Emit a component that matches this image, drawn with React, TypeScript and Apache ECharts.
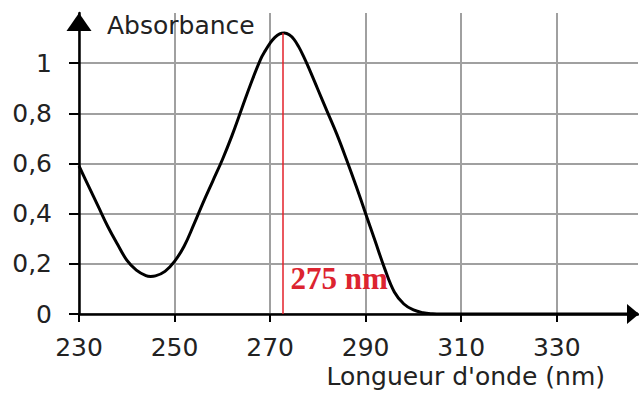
import React, { useEffect, useRef } from "react";
import * as echarts from "echarts";

const wavelengths = [230, 232, 234, 236, 238, 240, 242, 244, 245, 246, 248, 250, 252, 254, 256, 258, 260, 262, 264, 266, 268, 269, 270, 271, 272, 273, 274, 275, 276, 277, 278, 280, 282, 284, 286, 288, 290, 292, 294, 296, 298, 300, 302, 304, 306, 320, 347];
const absorbance = [0.59, 0.51, 0.43, 0.35, 0.28, 0.215, 0.175, 0.153, 0.15, 0.152, 0.17, 0.21, 0.27, 0.355, 0.445, 0.53, 0.615, 0.71, 0.815, 0.92, 1.015, 1.05, 1.08, 1.103, 1.117, 1.12, 1.113, 1.095, 1.065, 1.027, 0.985, 0.895, 0.805, 0.715, 0.615, 0.51, 0.4, 0.29, 0.18, 0.088, 0.04, 0.016, 0.005, 0.001, 0, 0, 0];
const xTicks = [230, 250, 270, 290, 310, 330];
const yTicks = [0, 0.2, 0.4, 0.6, 0.8, 1];
const peakWavelength = 272.7;
const peakAbsorbance = 1.12;
const peakLabel = "275 nm";

export default function App() {
  const ref = useRef<HTMLDivElement>(null);
  useEffect(() => {
    const chart = echarts.init(ref.current!, null, { renderer: "svg" });
    const grid = "#a0a0a0";
    const fontFamily = "DejaVu Sans";
    chart.setOption({
      animation: false,
      backgroundColor: "#ffffff",
      grid: { left: 79, top: 13, right: 1, bottom: 80 },
      xAxis: {
        type: "value",
        min: 230,
        max: 347,
        interval: 20,
        name: "Longueur d'onde (nm)",
        nameLocation: "end",
        nameGap: -33,
        nameTextStyle: {
          align: "right",
          verticalAlign: "top",
          padding: [50, 0, 0, 0],
          fontSize: 25,
          fontFamily,
          color: "#222",
        },
        axisLine: {
          show: true,
          lineStyle: { color: "#000", width: 2.5 },
          symbol: ["none", "triangle"],
          symbolSize: [20, 12],
          symbolOffset: [0, -5],
        },
        axisTick: {
          show: true,
          inside: false,
          length: 8,
          customValues: xTicks,
          lineStyle: { color: "#000", width: 2 },
        },
        axisLabel: {
          customValues: xTicks,
          margin: 21,
          fontSize: 25,
          fontFamily,
          color: "#222",
        },
        splitLine: {
          show: true,
          lineStyle: { color: [grid, grid, grid, grid, grid, grid, "rgba(0,0,0,0)"], width: 2 },
        },
      },
      yAxis: {
        type: "value",
        min: 0,
        max: 1.2,
        interval: 0.2,
        name: "Absorbance",
        nameLocation: "end",
        nameGap: -12,
        nameTextStyle: {
          align: "left",
          verticalAlign: "middle",
          padding: [0, 0, 0, 28],
          fontSize: 25,
          fontFamily,
          color: "#222",
        },
        axisLine: {
          show: true,
          lineStyle: { color: "#000", width: 2.5 },
          symbol: ["none", "triangle"],
          symbolSize: [25, 18],
          symbolOffset: [0, -9],
        },
        axisTick: {
          show: true,
          inside: false,
          length: 10,
          customValues: yTicks,
          lineStyle: { color: "#000", width: 2 },
        },
        axisLabel: {
          customValues: yTicks,
          margin: 27,
          fontSize: 25,
          fontFamily,
          color: "#222",
          formatter: (v: number) => String(Math.round(v * 10) / 10).replace(".", ","),
        },
        splitLine: {
          show: true,
          lineStyle: { color: [grid, grid, grid, grid, grid, grid, "rgba(0,0,0,0)"], width: 2 },
        },
      },
      series: [
        {
          type: "line",
          data: wavelengths.map((w, i) => [w, absorbance[i]]),
          smooth: 0.4,
          showSymbol: false,
          lineStyle: { color: "#000", width: 3 },
          itemStyle: { color: "#000" },
          z: 3,
          markLine: {
            silent: true,
            symbol: "none",
            label: { show: false },
            lineStyle: { color: "#e3202a", width: 1.5, type: "solid" },
            data: [[{ coord: [peakWavelength, 0] }, { coord: [peakWavelength, peakAbsorbance] }]],
          },
          markPoint: {
            silent: true,
            symbol: "circle",
            symbolSize: 1,
            itemStyle: { color: "rgba(0,0,0,0)" },
            data: [
              {
                coord: [peakWavelength, 0.142],
                label: {
                  show: true,
                  position: "right",
                  distance: 7,
                  formatter: peakLabel,
                  fontFamily: "Liberation Serif",
                  fontWeight: "bold",
                  fontSize: 31,
                  color: "#dc2430",
                },
              },
            ],
          },
        },
      ],
    });
    return () => chart.dispose();
  }, []);
  return <div ref={ref} style={{ position: "fixed", left: 0, top: 0, width: 639, height: 394 }} />;
}
